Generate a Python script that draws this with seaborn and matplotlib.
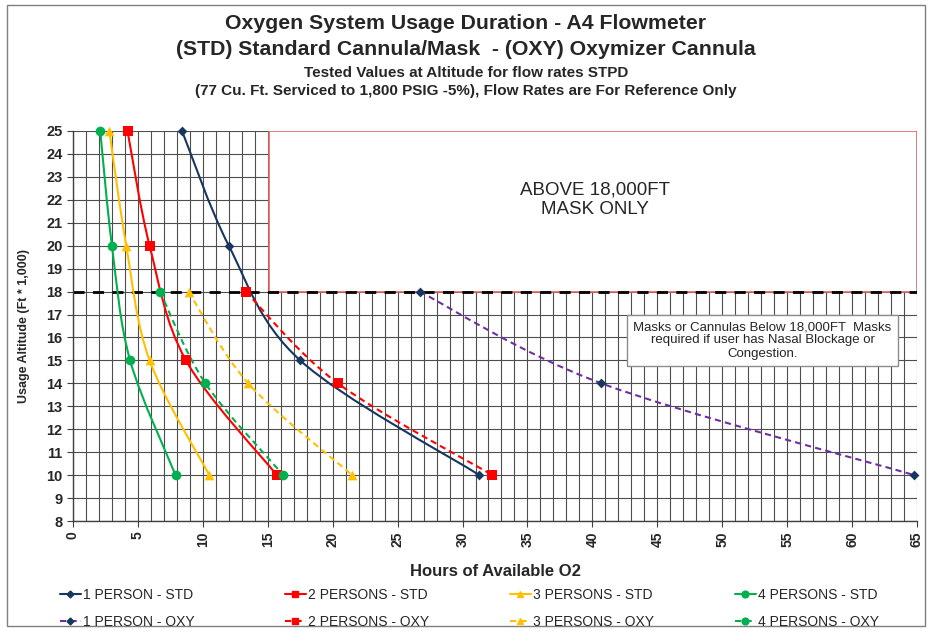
import numpy as np
import pandas as pd
import seaborn as sns
import matplotlib.pyplot as plt
from matplotlib.path import Path
from matplotlib.patches import PathPatch, Rectangle
from matplotlib.lines import Line2D

# values (hours, altitude in ft * 1,000)
std_alt = [25, 20, 15, 10]
oxy_alt = [18, 14, 10]

p1_std = [8.4, 12.0, 17.5, 31.3]
p2_std = [4.2, 5.9, 8.7, 15.7]
p3_std = [2.8, 4.1, 5.9, 10.5]
p4_std = [2.1, 3.0, 4.4, 7.9]

p1_oxy = [26.7, 40.7, 64.8]
p2_oxy = [13.3, 20.4, 32.3]
p3_oxy = [8.9, 13.5, 21.5]
p4_oxy = [6.7, 10.2, 16.2]

x_ticks = list(range(0, 70, 5))
y_ticks = list(range(8, 26))

navy = '#17375E'
red = '#FF0000'
yellow = '#FFC000'
green = '#00B050'
purple = '#7030A0'

series = [
    ('1 PERSON - STD', p1_std, std_alt, navy, navy, 'D', 5, '-'),
    ('1 PERSON - OXY', p1_oxy, oxy_alt, purple, navy, 'D', 5, (0, (3, 2))),
    ('2 PERSONS - STD', p2_std, std_alt, red, red, 's', 7, '-'),
    ('2 PERSONS - OXY', p2_oxy, oxy_alt, red, red, 's', 7, (0, (3, 2))),
    ('3 PERSONS - STD', p3_std, std_alt, yellow, yellow, '^', 7, '-'),
    ('3 PERSONS - OXY', p3_oxy, oxy_alt, yellow, yellow, '^', 7, (0, (3, 2))),
    ('4 PERSONS - STD', p4_std, std_alt, green, green, 'o', 7, '-'),
    ('4 PERSONS - OXY', p4_oxy, oxy_alt, green, green, 'o', 7, (0, (3, 2))),
]


def smooth_path(xs, ys):
    # Excel style smoothed line: cubic bezier through the points
    pts = np.column_stack([xs, ys]).astype(float)
    ext = np.vstack([pts[0], pts, pts[-1]])
    verts = [pts[0]]
    codes = [Path.MOVETO]
    for i in range(len(pts) - 1):
        p0, p1, p2, p3 = ext[i], ext[i + 1], ext[i + 2], ext[i + 3]
        verts += [p1 + (p2 - p0) / 6, p2 - (p3 - p1) / 6, p2]
        codes += [Path.CURVE4] * 3
    return Path(verts, codes)


sns.set_style('white')
plt.rcParams['font.family'] = ['Liberation Sans', 'DejaVu Sans']

fig = plt.figure(figsize=(9.32, 6.31), dpi=100)
ax = fig.add_axes([0.0783, 0.1743, 0.9056, 0.6181])

# chart border
fig.patches.append(Rectangle((0.008, 0.008), 0.984, 0.984, transform=fig.transFigure,
                             fill=False, edgecolor='#7F7F7F', lw=1))

for name, xs, ys, lc, mc, mk, ms, ls in series:
    patch = PathPatch(smooth_path(xs, ys), fill=False, edgecolor=lc, lw=1.5,
                      linestyle=ls, zorder=3, capstyle='butt')
    ax.add_patch(patch)
    df = pd.DataFrame({'hours': xs, 'alt': ys})
    sns.scatterplot(data=df, x='hours', y='alt', ax=ax, marker=mk, s=ms ** 2,
                    color=mc, edgecolor=mc, linewidth=0, zorder=4, clip_on=False)

# mask only region
ax.add_patch(Rectangle((15.1, 18), 65 - 15.1, 7, facecolor='white',
                       edgecolor='#E06666', lw=1.2, zorder=1.5))
ax.axhline(18, color='black', lw=2, linestyle=(0, (4, 3)), zorder=2)

ax.text(40.2, 22.0, 'ABOVE 18,000FT\nMASK ONLY', ha='center', va='center',
        fontsize=13.5, linespacing=1.25, zorder=5)
ax.text(53.1, 15.87, 'Masks or Cannulas Below 18,000FT  Masks\nrequired if user has Nasal Blockage or\nCongestion.',
        ha='center', va='center', fontsize=9.5, linespacing=1.15, zorder=5,
        bbox=dict(boxstyle='square,pad=0.5', facecolor='white', edgecolor='#8C8C8C', lw=1))

ax.set_xlim(0, 65)
ax.set_ylim(8, 25)
ax.set_xticks(x_ticks)
ax.set_xticks(range(0, 66), minor=True)
ax.set_yticks(y_ticks)
ax.set_xticklabels(x_ticks, rotation=90, fontsize=10, fontweight='bold')
ax.set_yticklabels(y_ticks, fontsize=10.5, fontweight='bold')
ax.tick_params(axis='both', which='major', length=4, width=0.8, color='#404040', left=True, bottom=True)
ax.tick_params(axis='x', which='minor', length=0)
ax.set_axisbelow(True)
ax.grid(True, which='both', axis='x', color='#4D4D4D', lw=0.8)
ax.grid(True, which='major', axis='y', color='#4D4D4D', lw=0.8)
for s in ['top', 'right']:
    ax.spines[s].set_visible(False)
for s in ['left', 'bottom']:
    ax.spines[s].set_color('#404040')
    ax.spines[s].set_linewidth(1)

ax.set_xlabel('Hours of Available O2', fontsize=12, fontweight='bold', labelpad=12)
ax.set_ylabel('Usage Altitude (Ft * 1,000)', fontsize=9, fontweight='bold', labelpad=12)

fig.text(0.5, 0.962, 'Oxygen System Usage Duration - A4 Flowmeter', ha='center', va='center',
         fontsize=15.3, fontweight='bold')
fig.text(0.5, 0.921, '(STD) Standard Cannula/Mask  - (OXY) Oxymizer Cannula', ha='center', va='center',
         fontsize=15.3, fontweight='bold')
fig.text(0.5, 0.885, 'Tested Values at Altitude for flow rates STPD', ha='center', va='center',
         fontsize=11, fontweight='bold')
fig.text(0.5, 0.856, '(77 Cu. Ft. Serviced to 1,800 PSIG -5%), Flow Rates are For Reference Only',
         ha='center', va='center', fontsize=11, fontweight='bold')

# legend: one block per column, STD on top row, OXY below
col_left = [60, 285, 510, 735]
for c in range(4):
    pair = series[2 * c:2 * c + 2]
    handles = [Line2D([0], [0], color=lc, lw=1.5, linestyle=ls, marker=mk, markersize=ms * 0.7,
                      markerfacecolor=mc, markeredgecolor=mc) for _, _, _, lc, mc, mk, ms, ls in pair]
    fig.legend(handles, [p[0] for p in pair], loc='upper left',
               bbox_to_anchor=(col_left[c] / 932, 1 - 588 / 631), frameon=False,
               borderpad=0, borderaxespad=0, handlelength=1.5, handletextpad=0.15,
               labelspacing=0.95, prop={'size': 10})

fig.savefig('out.png', dpi=100)
